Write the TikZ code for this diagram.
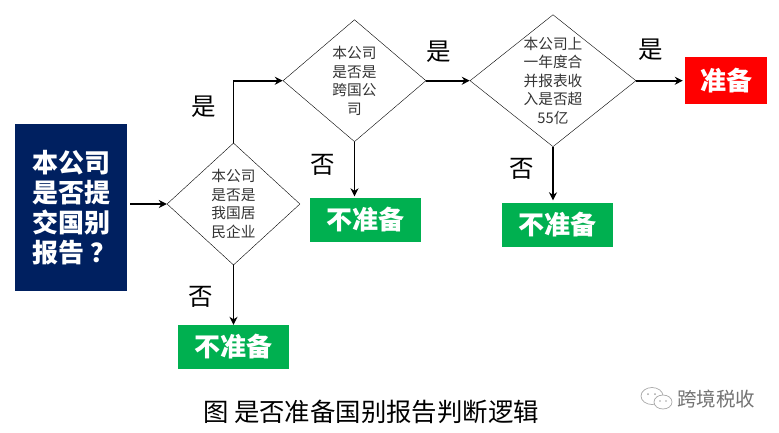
\documentclass[tikz,border=0pt]{standalone}
\usepackage{fontspec}
\setmainfont{Noto Sans CJK SC}
\usetikzlibrary{arrows.meta}
\usetikzlibrary{calc}
\usetikzlibrary{shapes.geometric}
\definecolor{navybox}{HTML}{002060}
\definecolor{greenbox}{HTML}{00B050}
\tikzset{
    decision/.style={draw, diamond, inner sep=0pt, align=center, text=black!80, font=\fontsize{14.7}{18.5}\selectfont},
    result/.style={inner sep=0pt, text=white, font=\fontsize{26}{30}\selectfont\bfseries},
    flow/.style={-{Stealth[length=8pt,width=8pt]}, line width=1.8pt},
    branch/.style={font=\fontsize{24.5}{28}\selectfont}
}

\begin{document}
\begin{tikzpicture}[x=1pt, y=-1pt]
            \useasboundingbox (0,0) rectangle (779,432);

            % Start question node
            \node [fill=navybox, minimum width=112pt, minimum height=167pt, inner sep=0pt, align=center, text=white, font=\fontsize{26}{30}\selectfont\bfseries] (start) at (71,207.5) {本公司\\是否提\\交国别\\报告\makebox[26pt][l]{\hspace{7pt}？}};

            % Decision nodes
            \node [decision, minimum width=133pt, minimum height=122pt] (resident) at (233.5,204) {本公司\\是否是\\我国居\\民企业};
            \node [decision, minimum width=143pt, minimum height=122pt] (crossborder) at (354.5,80.7) {本公司\\是否是\\跨国公\\司};
            \node [decision, minimum width=166pt, minimum height=132pt] (revenue) at (553,80.7) {};
            \node [align=center, inner sep=0pt, text=black!80, font=\fontsize{14.7}{18.5}\selectfont] (revenue_text) at (revenue) {本公司上\\一年度合\\并报表收\\入是否超\\55亿};

            % Result nodes
            \node [result, fill=red, minimum width=82pt, minimum height=47pt] (prepare) at (726,80.7) {准备};
            \foreach \i/\x/\y in {1/233.5/347, 2/365.5/219.5, 3/557/224.5} {
                \node [result, fill=greenbox, minimum width=111pt, minimum height=44pt] (skip\i) at (\x,\y) {不准备};
            }

            % Connectors
            \draw [flow, shorten <=3pt] (start.east |- resident.west) -- (resident.west);
            \draw [flow] (resident.north) |- (crossborder.west);
            \draw [flow] (resident.south) -- (skip1.north);
            \draw [flow] (crossborder.east) -- (revenue.west);
            \draw [flow, shorten >=1pt] (crossborder.south) -- (crossborder.south |- skip2.north);
            \draw [flow, shorten >=2pt] (revenue.east) -- (prepare.west);
            \draw [flow, shorten >=2pt] (revenue.south) -- (revenue.south |- skip3.north);

            % Branch labels
            \foreach \i/\x/\y in {1/204/107, 2/439/52, 3/651/50} {
                \node [branch] (yes\i) at (\x,\y) {是};
            }
            \foreach \i/\x/\y in {1/201/297, 2/323/165, 3/522/169} {
                \node [branch] (no\i) at (\x,\y) {否};
            }

            % Caption
            \node [font=\fontsize{25.4}{30}\selectfont] (caption) at (371,412) {图 是否准备国别报告判断逻辑};

            % Watermark
            \draw [black!35, line width=0.7pt] (652,396) ellipse [x radius=11, y radius=8.5];
            \draw [black!35, line width=0.7pt, fill=white] (663,402) ellipse [x radius=9, y radius=7];
            \fill [black!35] (648,394) circle [radius=1] (655,394) circle [radius=1] (660,401) circle [radius=0.8] (666,401) circle [radius=0.8];
            \node [text=black!55, font=\fontsize{19.5}{24}\selectfont] (mark) at (716,399) {跨境税收};
        \end{tikzpicture}
\end{document}
